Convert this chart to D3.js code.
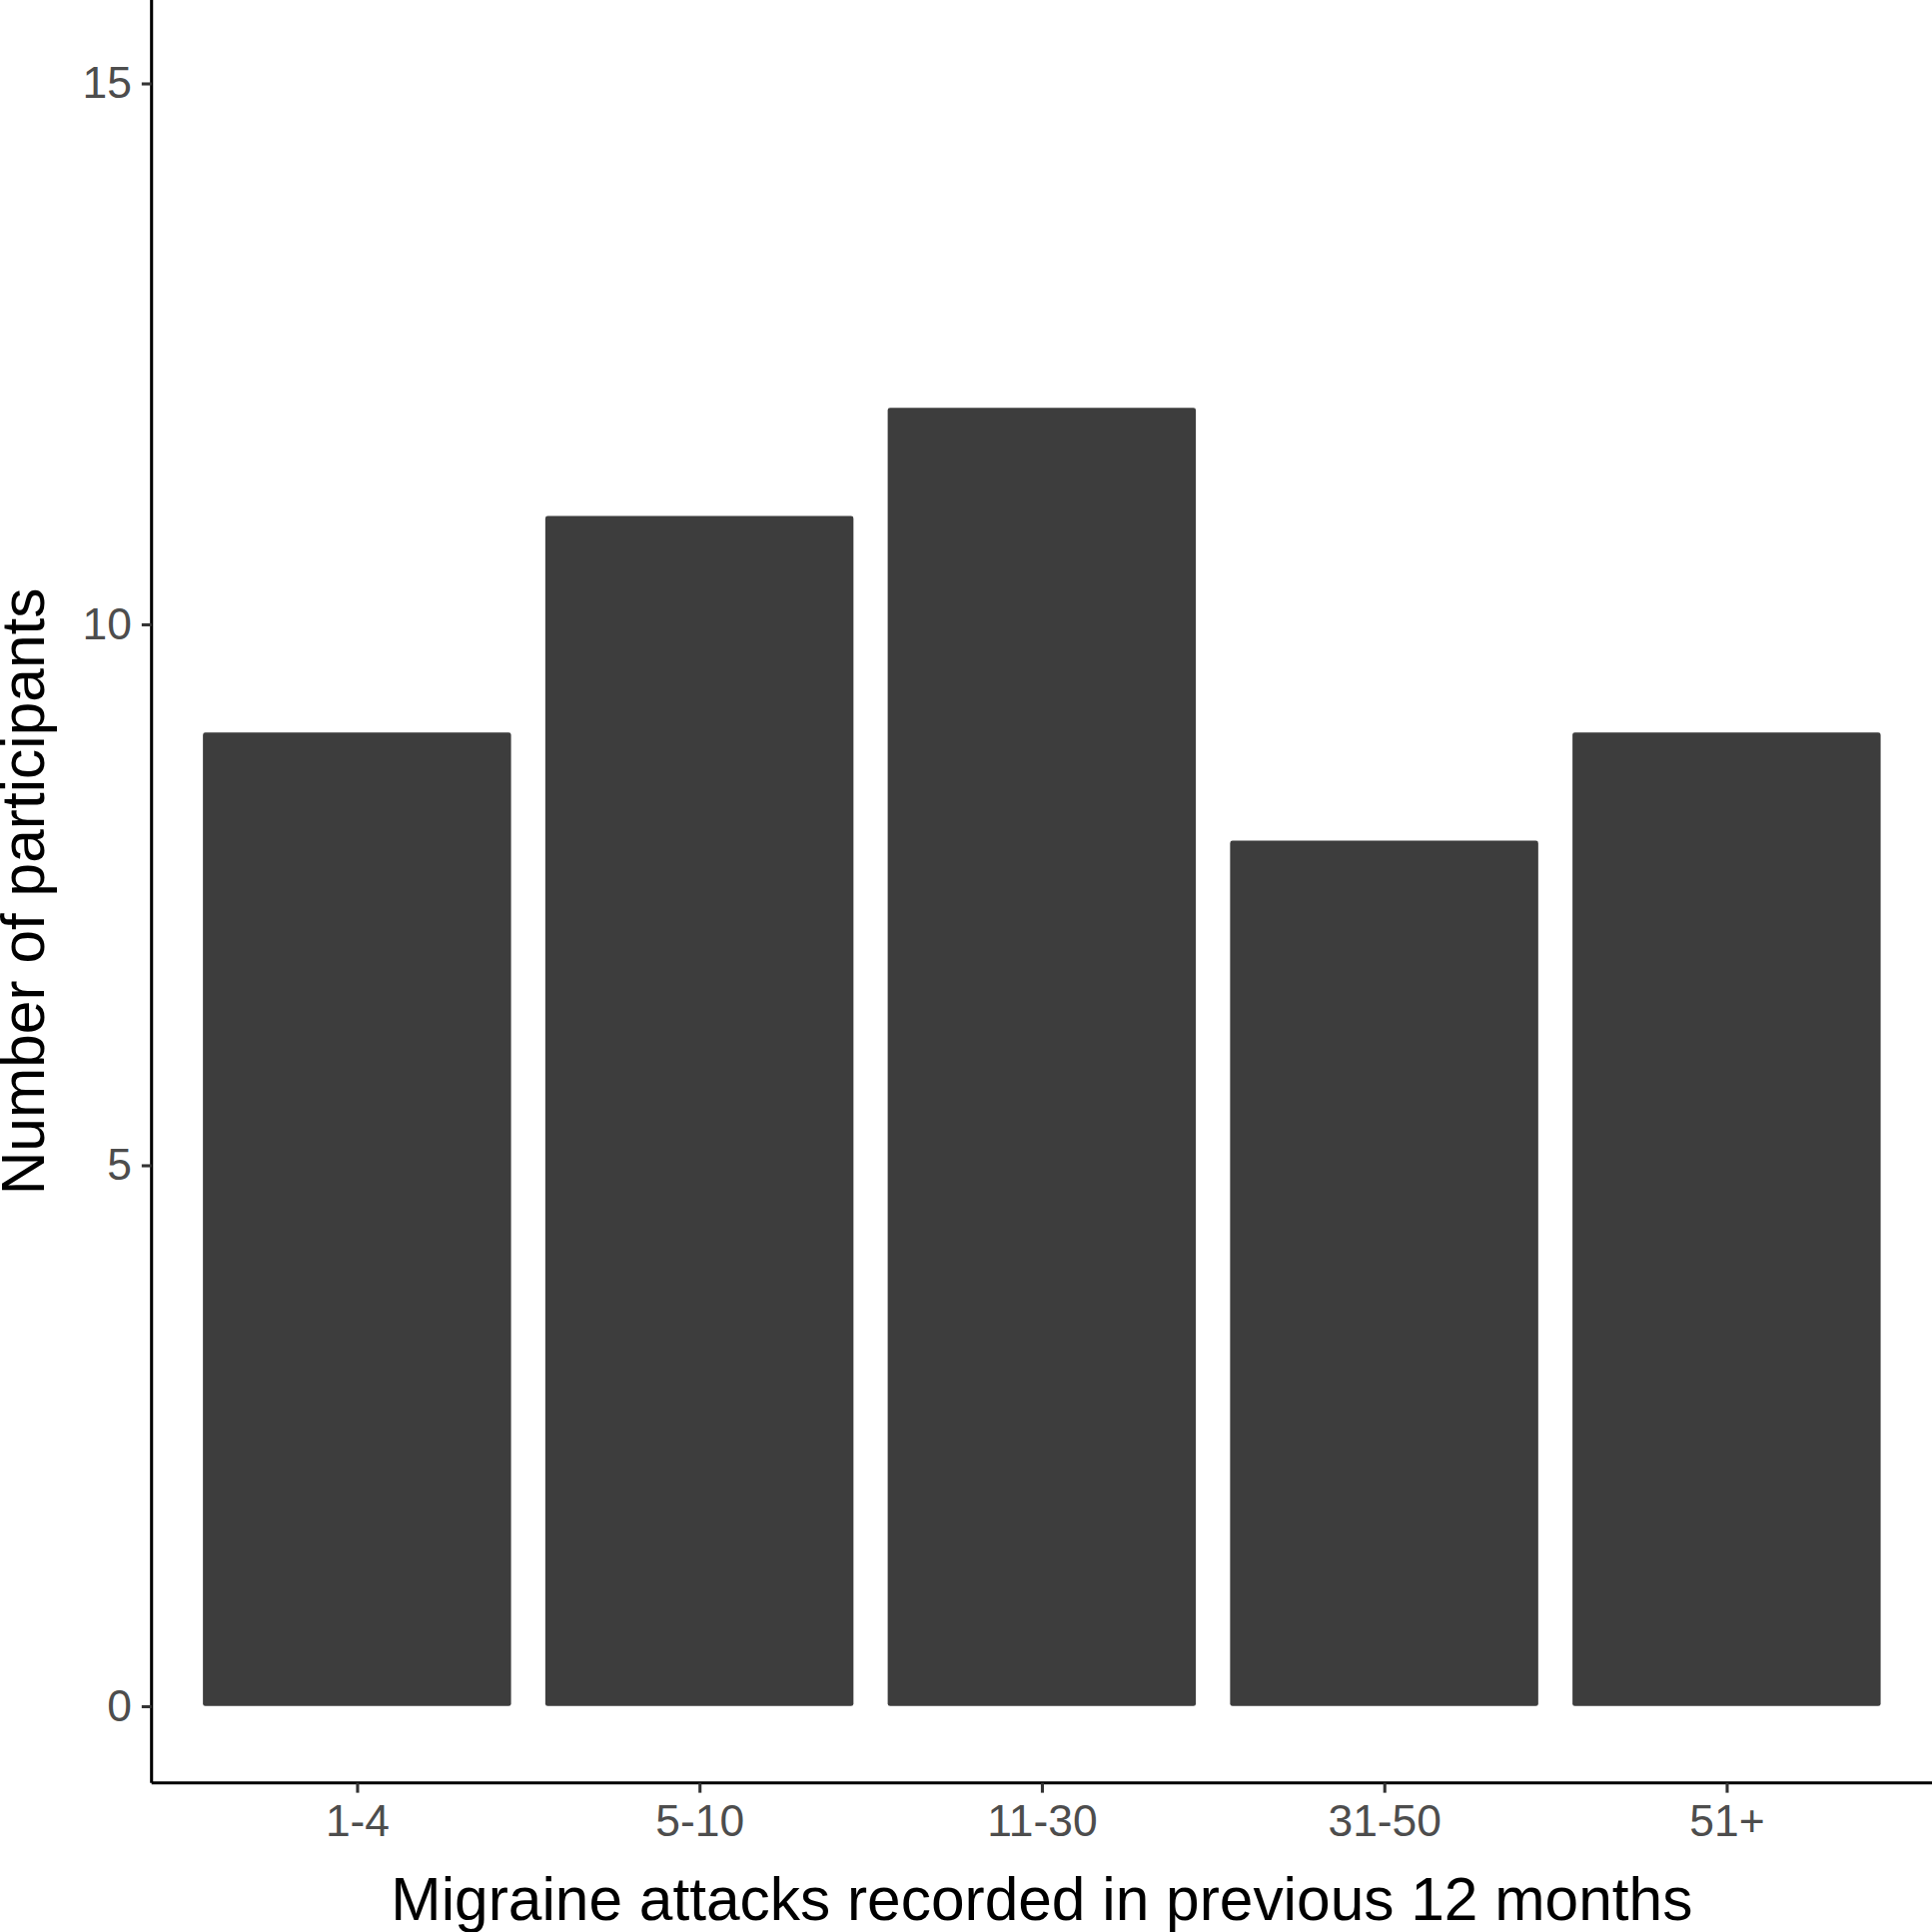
<!DOCTYPE html>
<html><head><meta charset="utf-8">
<script src="https://cdn.jsdelivr.net/npm/d3@7"></script>
<style>body{margin:0;background:#fff}</style>
</head><body>
<script>
var categories = ["1-4", "5-10", "11-30", "31-50", "51+"];
var counts = [9, 11, 12, 8, 9];
var yTicks = [0, 5, 10, 15];

// drawn in 1568 units, scaled up to the 1934 window
var svg = d3.select("body").append("svg")
    .attr("width", 1934).attr("height", 1934)
    .attr("viewBox", "0 0 1568 1568")
    .style("font-family", "Liberation Sans, Arial, sans-serif");

var plotLeft = 123, plotRight = 1568, plotBottom = 1447, plotTop = 0;

var x = d3.scalePoint().domain(categories).range([plotLeft, plotRight]).padding(0.6);
var step = x.step();
var y = d3.scaleLinear().domain([-0.71, 15.77]).range([plotBottom, plotTop]);

svg.selectAll("rect.bar").data(counts).enter().append("rect")
    .attr("class", "bar")
    .attr("x", (d, i) => x(categories[i]) - step * 0.45)
    .attr("width", step * 0.9)
    .attr("y", d => y(d))
    .attr("height", d => y(0) - y(d))
    .attr("rx", 2)
    .attr("fill", "#3d3d3d");

var yAxis = svg.append("g").attr("transform", "translate(" + plotLeft + ",0)")
    .call(d3.axisLeft(y).tickValues(yTicks).tickSize(8).tickPadding(8));
var xAxis = svg.append("g").attr("transform", "translate(0," + plotBottom + ")")
    .call(d3.axisBottom(x).tickSize(8).tickPadding(10));

[xAxis, yAxis].forEach(function(g) {
    g.select(".domain").attr("stroke", "#000").attr("stroke-width", 2.5);
    g.selectAll(".tick line").attr("stroke", "#333").attr("stroke-width", 2.5);
    g.selectAll(".tick text").attr("fill", "#4d4d4d").style("font-size", "36px");
});
yAxis.select(".domain").attr("d", "M0," + plotTop + "V" + plotBottom);
xAxis.select(".domain").attr("d", "M" + plotLeft + ",0H" + plotRight);

svg.append("text")
    .attr("x", (plotLeft + plotRight) / 2).attr("y", 1558)
    .attr("text-anchor", "middle").style("font-size", "49px")
    .text("Migraine attacks recorded in previous 12 months");

svg.append("text")
    .attr("transform", "translate(36," + (plotBottom + plotTop) / 2 + ") rotate(-90)")
    .attr("text-anchor", "middle").style("font-size", "49px")
    .text("Number of participants");
</script>
</body></html>
